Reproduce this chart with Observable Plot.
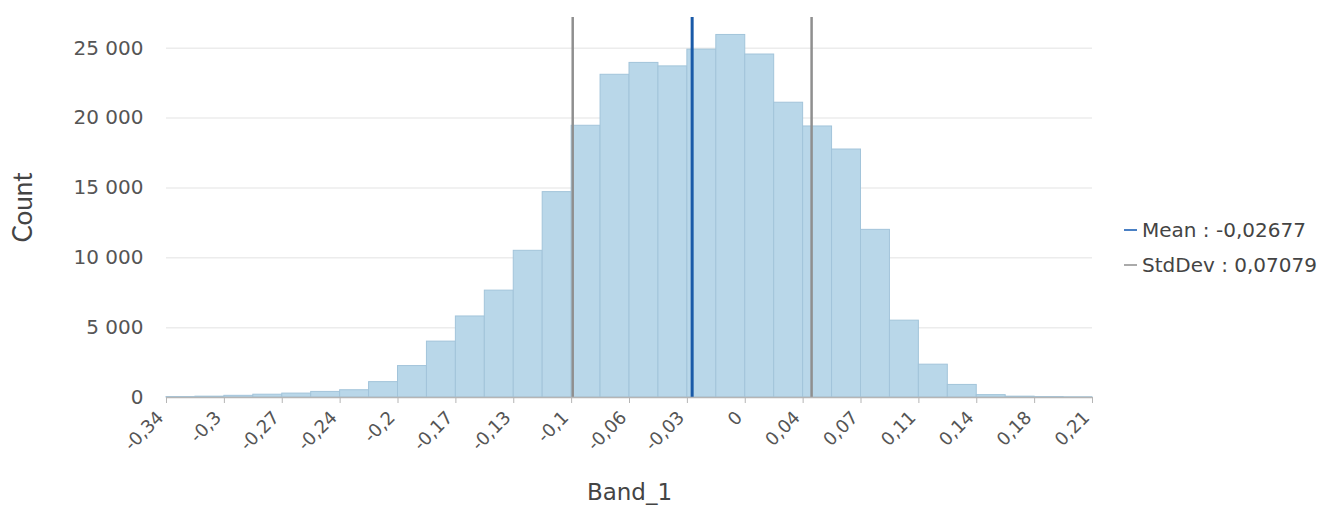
<!DOCTYPE html>
<html>
<head>
<meta charset="utf-8">
<script src="https://cdn.jsdelivr.net/npm/d3@7"></script>
<script src="https://cdn.jsdelivr.net/npm/@observablehq/plot@0.6"></script>
<style>
  html, body { margin: 0; padding: 0; background: #fff; }
  #wrap { position: relative; width: 1329px; height: 510px; font-family: "DejaVu Sans", Verdana, sans-serif; }
  .leg { position: absolute; left: 1124px; font-size: 20px; color: #444; white-space: nowrap; display: flex; align-items: center; }
  .sw { display: inline-block; width: 13px; height: 2px; margin-right: 5px; }
</style>
</head>
<body>
<div id="wrap"></div>
<script>
// ---- data ----
const xMin = -0.3383;
const xMax = 0.2105;
const counts = [30, 60, 120, 200, 280, 400, 520, 1100, 2250, 4000, 5800, 7650, 10500, 14700, 19450, 23100,
                23950, 23700, 24900, 25950, 24550, 21100, 19400, 17750, 12000, 5500, 2350, 900, 170, 60, 30, 15];
const xTickLabels = ["-0,34", "-0,3", "-0,27", "-0,24", "-0,2", "-0,17", "-0,13", "-0,1", "-0,06", "-0,03",
                     "0", "0,04", "0,07", "0,11", "0,14", "0,18", "0,21"];
const yTicks = [0, 5000, 10000, 15000, 20000, 25000];
const meanValue = -0.02677;
const stdDevValue = 0.07079;
const legendLabels = ["Mean : -0,02677", "StdDev : 0,07079"];

// ---- derived ----
const binW = (xMax - xMin) / counts.length;
const bins = counts.map((c, i) => ({x1: xMin + i * binW, x2: xMin + (i + 1) * binW, count: c}));
const tickStep = (xMax - xMin) / (xTickLabels.length - 1);
const xTicks = xTickLabels.map((_, i) => xMin + i * tickStep);
const fmtY = d => d3.format(",")(d).replace(/,/g, " ");

const chart = Plot.plot({
  width: 1329,
  height: 510,
  marginLeft: 166,
  marginRight: 237,
  marginTop: 17,
  marginBottom: 113,
  style: {fontFamily: "DejaVu Sans, Verdana, sans-serif", fontSize: "18px", color: "#555", background: "#fff"},
  x: {domain: [xMin, xMax]},
  y: {domain: [0, 27200]},
  marks: [
    Plot.gridY(yTicks.filter(d => d > 0), {stroke: "#ececec", strokeOpacity: 1, strokeWidth: 1.5}),
    Plot.rectY(bins, {x1: "x1", x2: "x2", y: "count", fill: "#b9d7e9", stroke: "#a2c4da", strokeWidth: 1}),
    Plot.ruleX([meanValue - stdDevValue, meanValue + stdDevValue], {stroke: "#8f8f8f", strokeWidth: 2.5}),
    Plot.ruleX([meanValue], {stroke: "#1a5aa8", strokeWidth: 3}),
    Plot.ruleY([0], {stroke: "#b5b5b5", strokeWidth: 1.5}),
    Plot.axisY({ticks: yTicks, tickFormat: fmtY, tickSize: 0, tickPadding: 23,
                label: "Count", labelAnchor: "center", labelOffset: 153, labelArrow: false}),
    // tick marks only
    Plot.axisX({ticks: xTicks, tickFormat: () => "", tickSize: 6, stroke: "#b5b5b5", label: null}),
    // rotated tick labels, nudged
    Plot.axisX({ticks: xTicks, tickFormat: (d, i) => xTickLabels[i], tickRotate: -45, tickSize: 0,
                tickPadding: 6, dx: -6, dy: 11,
                label: "Band_1", labelAnchor: "center", labelOffset: 102, labelArrow: false})
  ]
});
document.getElementById("wrap").appendChild(chart);

// text sizing
chart.querySelectorAll("[aria-label='y-axis tick label'] text").forEach(t => { t.style.fontSize = "20px"; t.style.fill = "#555"; });
chart.querySelectorAll("[aria-label='x-axis tick label'] text").forEach(t => { t.style.fontSize = "18px"; t.style.fill = "#555"; });
chart.querySelectorAll("[aria-label='y-axis label'] text, [aria-label='x-axis label'] text").forEach(t => {
  t.style.fontSize = "23px";
  t.style.fill = "#444";
});
const yl = chart.querySelector("[aria-label='y-axis label'] text");
if (yl) { yl.style.fontFamily = "Lato, sans-serif"; yl.style.fontSize = "26px"; }

// legend
const legColors = ["#4a80c4", "#aaaaaa"];
const legY = [218, 253];
legendLabels.forEach((lab, i) => {
  const d = document.createElement("div");
  d.className = "leg";
  d.style.top = legY[i] + "px";
  d.innerHTML = `<span class="sw" style="background:${legColors[i]}"></span>${lab}`;
  document.getElementById("wrap").appendChild(d);
});
</script>
</body>
</html>
